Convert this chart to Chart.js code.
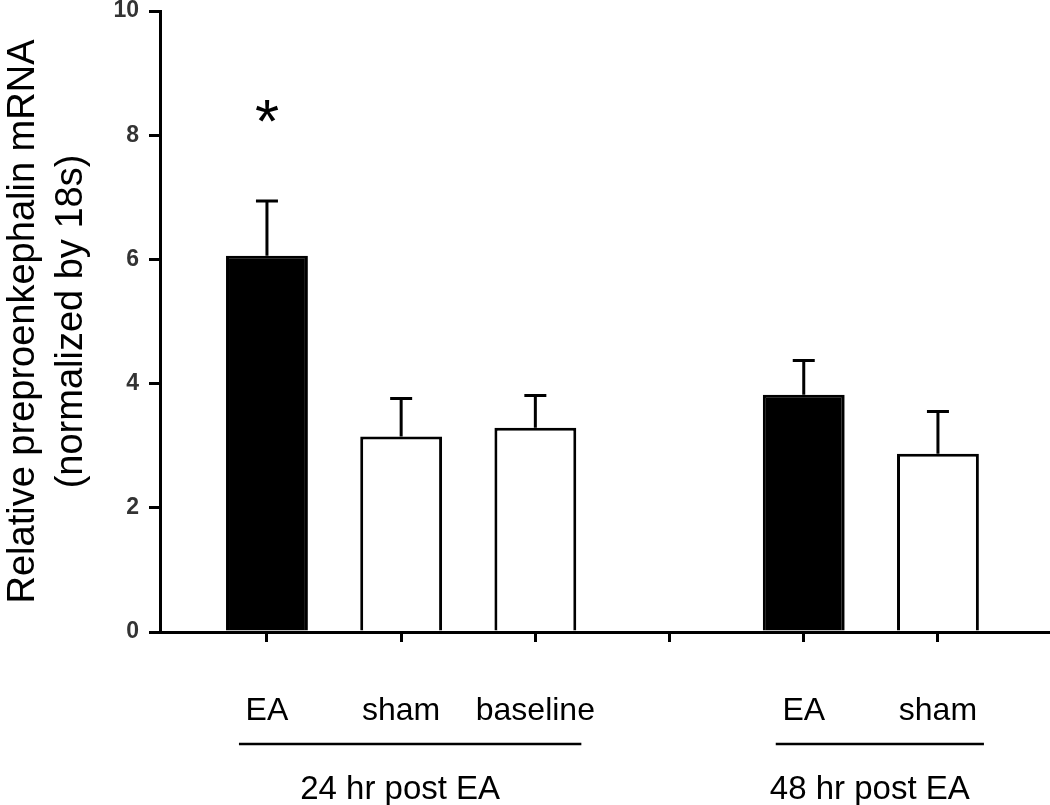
<!DOCTYPE html>
<html>
<head>
<meta charset="utf-8">
<script src="https://cdn.jsdelivr.net/npm/chart.js@4/dist/chart.umd.min.js"></script>
<style>
  html, body { margin: 0; padding: 0; background: #fff; }
</style>
</head>
<body>
<canvas id="myChart" width="1050" height="805"></canvas>
<script>
// categories (index 3 is the empty slot between the two time points)
var categories = ["EA", "sham", "baseline", "", "EA", "sham"];
var means = [6.06, 3.15, 3.29, null, 3.82, 2.87];
var sem = [0.88, 0.61, 0.52, null, 0.55, 0.68];
var fills = ["#000000", "#ffffff", "#ffffff", null, "#000000", "#ffffff"];
var marks = ["*", "", "", "", "", ""];
var yTicks = [0, 2, 4, 6, 8, 10];
var groups = ["24 hr post EA", "48 hr post EA"];
var groupFirst = [0, 4];
var groupLast = [2, 5];

var points = [];
for (var i = 0; i < categories.length; i++) {
  if (means[i] !== null) points.push({x: i, y: means[i]});
}

var extras = {
  id: 'extras',
  afterDatasetsDraw: function(chart) {
    var c = chart.ctx, xs = chart.scales.x, ys = chart.scales.y;
    c.save();
    c.strokeStyle = '#000';
    c.fillStyle = '#000';
    c.lineWidth = 3;
    // error bars (upper only)
    for (var i = 0; i < means.length; i++) {
      if (means[i] === null) continue;
      var x = xs.getPixelForValue(i);
      var y0 = ys.getPixelForValue(means[i]);
      var y1 = ys.getPixelForValue(means[i] + sem[i]);
      c.beginPath();
      c.moveTo(x, y0);
      c.lineTo(x, y1);
      c.moveTo(x - 11, y1);
      c.lineTo(x + 11, y1);
      c.stroke();
      if (marks[i]) {
        c.font = '62px "Liberation Sans", Arial, sans-serif';
        c.textAlign = 'center';
        c.textBaseline = 'top';
        c.fillText(marks[i], x, y1 - 107);
      }
    }
    // group brackets and labels
    var lineY = chart.chartArea.bottom + 112;
    for (var g = 0; g < groups.length; g++) {
      var a = xs.getPixelForValue(groupFirst[g]) - 28;
      var b = xs.getPixelForValue(groupLast[g]) + 46;
      c.lineWidth = 2.5;
      c.beginPath();
      c.moveTo(a, lineY);
      c.lineTo(b, lineY);
      c.stroke();
      c.font = '33px "Liberation Sans", Arial, sans-serif';
      c.textAlign = 'center';
      c.textBaseline = 'middle';
      c.fillText(groups[g], (a + b) / 2 - 10, lineY + 46);
    }
    c.restore();
  }
};

var ctx = document.getElementById("myChart");

var myChart = new Chart(ctx, {
  type: 'bar',
  data: {
    labels: categories,
    datasets: [{
      data: points,
      backgroundColor: points.map(function(p) { return fills[p.x]; }),
      borderColor: "#000000",
      borderWidth: 3,
      borderSkipped: 'start',
      barPercentage: 0.61,
      categoryPercentage: 1.0
    }]
  },
  options: {
    responsive: false,
    animation: false,
    layout: { autoPadding: false, padding: { top: 11, right: 0, bottom: 0, left: 0 } },
    plugins: {
      legend: { display: false },
      tooltip: { enabled: false }
    },
    scales: {
      x: {
        type: 'linear',
        offset: false,
        min: -0.797,
        max: 5.835,
        afterBuildTicks: function(scale) {
          scale.ticks = [0, 1, 2, 3, 4, 5].map(function(v) { return {value: v}; });
        },
        afterFit: function(scale) {
          scale.height = 173;
          scale.paddingLeft = 0;
          scale.paddingRight = 0;
        },
        border: { display: true, color: '#000', width: 3 },
        grid: { display: true, offset: false, drawOnChartArea: false, drawTicks: true, tickLength: 10, color: '#000', lineWidth: 3 },
        ticks: {
          autoSkip: false,
          maxRotation: 0,
          padding: 50,
          color: '#000',
          font: { family: '"Liberation Sans", Arial, sans-serif', size: 32 },
          callback: function(v) { return categories[v] || ''; }
        }
      },
      y: {
        min: 0,
        max: 10,
        afterBuildTicks: function(scale) {
          scale.ticks = yTicks.map(function(v) { return {value: v}; });
        },
        afterFit: function(scale) {
          scale.width = 160;
          scale.paddingTop = 0;
          scale.paddingBottom = 0;
        },
        border: { display: true, color: '#000', width: 3 },
        grid: { display: true, drawOnChartArea: false, drawTicks: true, tickLength: 11, color: '#000', lineWidth: 3 },
        ticks: {
          padding: 10,
          color: '#333',
          font: { family: '"Liberation Sans", Arial, sans-serif', size: 23, weight: 'bold' }
        },
        title: {
          display: true,
          text: ['Relative preproenkephalin mRNA', '(normalized by 18s)'],
          color: '#000',
          padding: { top: 0, bottom: 0 },
          font: { family: '"Liberation Sans", Arial, sans-serif', size: 38, lineHeight: 1.25 }
        }
      }
    }
  },
  plugins: [extras]
});
</script>
</body>
</html>
